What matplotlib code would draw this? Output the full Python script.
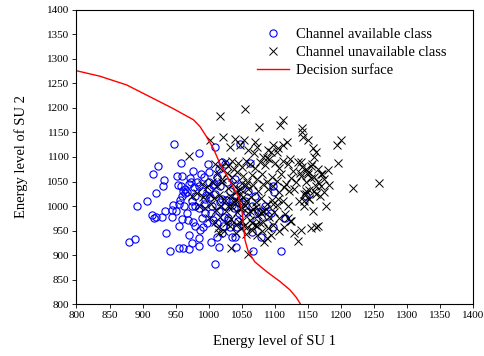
import numpy as np
import matplotlib
matplotlib.use("Agg")
import matplotlib.pyplot as plt

plt.rcParams['font.family'] = ['Liberation Serif', 'DejaVu Serif']

# channel available class (blue circles)
avail_x = [879, 889, 892, 906, 914, 917, 916, 920, 924, 921, 929, 931, 933, 934, 935,
           942, 944, 945, 946, 947, 952, 953, 955, 955, 957, 958, 959, 960, 962, 965,
           967, 969, 970, 971, 973, 975, 976, 977, 979, 985, 986, 986, 987, 989, 992,
           993, 994, 999, 1000, 1003, 1007, 1010, 1010, 1012, 1013, 1016, 1017, 1020, 1021, 1023,
           1029, 1032, 1035, 1040, 1042, 1043, 1047, 1058, 1062, 1066, 1067, 1071, 1075, 1079, 1094,
           1097, 1098, 1099, 1109, 1116, 1147,
           965, 970, 975, 980, 985, 990, 995, 1000, 1005, 1008, 1010, 1015, 1018, 1020, 1025,
           1028, 1030, 1032, 1035, 1038, 1040, 1042, 1045, 1048, 1050, 985, 990, 998, 1003, 1012,
           1022, 1000, 993, 1015, 1025, 963, 968, 975, 980, 960, 955, 950, 958, 1060, 1055,
           1065, 1070, 1080, 1090, 1085, 972, 982, 996, 1006, 1026, 1036, 1046, 962, 978, 1002]
avail_y = [926, 933, 1001, 1011, 982, 975, 1065, 1026, 1082, 978, 978, 1040, 1053, 990, 944,
           909, 992, 978, 1003, 1127, 1061, 1042, 959, 915, 1012, 1087, 973, 1061, 914, 1026,
           1029, 971, 912, 941, 1048, 924, 967, 1072, 999, 1109, 918, 934, 951, 1065, 958,
           1004, 985, 1086, 1050, 926, 971, 1121, 881, 1060, 937, 917, 1009, 944, 1090, 978,
           971, 958, 936, 936, 916, 958, 1127, 988, 1088, 946, 909, 971, 988, 936, 985,
           1040, 958, 1029, 909, 975, 1020,
           1035, 1045, 1010, 1020, 1040, 1030, 1015, 1035, 1000, 1045, 1025, 990, 1040, 1015, 1000,
           1050, 975, 1030, 1010, 995, 1055, 1020, 970, 1040, 1005, 995, 975, 965, 985, 965,
           960, 1070, 1060, 1075, 1085, 1000, 985, 1000, 960, 1020, 1005, 990, 1040, 1030, 1010,
           1000, 1020, 990, 980, 1000, 1058, 1050, 1022, 1042, 1012, 1002, 985, 1030, 1038, 1018]

# channel unavailable class (black crosses)
unavail_x = [1258, 1219, 1200, 1194, 1196, 1180, 1182, 1178, 1165, 1163, 1155, 1158, 1055, 1017, 1112,
             1077, 1108, 1142, 1141, 1143, 1150, 1158, 1163, 1022, 1002, 1040, 1053, 1070, 970, 1035,
             1034, 1060, 1084, 1095, 1135, 1130, 1140, 1125, 1120, 1015,
             1047, 1060, 1073, 1083, 1090, 1095, 1098, 1103, 1113, 1118, 1123, 1032, 1068, 1088, 1105,
             1010, 1018, 1025, 1030, 1038, 1045, 1050, 1057, 1063, 1070, 1078, 1085, 1092, 1100, 1107,
             1112, 1120, 1128, 1135, 1142, 1150, 1157, 1165, 1172, 1012, 1020, 1028, 1036, 1043, 1052,
             1058, 1066, 1074, 1081, 1089, 1096, 1103, 1110, 1117, 1125, 1133, 1140, 1147, 1155, 1162,
             990, 998, 1005, 1013, 1021, 1029, 1037, 1044, 1051, 1059, 1067, 1075, 1082, 1090, 1098,
             1106, 1114, 1122, 1130, 1145, 1152, 975, 983, 992, 1000, 1008, 1016, 1024, 1032, 1040,
             1048, 1056, 1064, 1072, 1080, 1088, 1096, 1104, 1112, 1120, 985, 995, 1003, 1011, 1019,
             1027, 1035, 1043, 1051, 1059, 1067, 1075, 1083, 1091, 1099, 1107, 1115, 1123, 1000, 1009,
             1017, 1026, 1034, 1042, 1050, 1058, 1066, 1074, 1082, 1090, 1098, 1106, 1114, 1014, 1024,
             1033, 1041, 1049, 1057, 1065, 1073, 1081, 1089, 1097, 1105, 1030, 1039, 1047, 1055, 1063,
             1071, 1079, 1087, 1046, 1054, 1062, 1070, 1078, 1160, 1168, 1148, 1137, 1144, 1152, 1175,
             1140, 1147, 1150, 1155, 1160, 1165, 1170, 1148, 1152, 1162, 1170, 1145, 1138, 1160, 1175,
             1042, 1048, 1052, 1045, 1056]
unavail_y = [1047, 1037, 1135, 1125, 1087, 1073, 1043, 999, 960, 958, 955, 990, 1197, 1184, 1176,
             1161, 1165, 1160, 1150, 1140, 1135, 1118, 1110, 1141, 1135, 1137, 1135, 1130, 1103, 1092,
             914, 902, 927, 940, 929, 945, 952, 970, 975, 945,
             1125, 1115, 1120, 1100, 1115, 1110, 1125, 1110, 1125, 1130, 1095, 1120, 1108, 1098, 1118,
             1085, 1078, 1090, 1082, 1075, 1088, 1080, 1092, 1085, 1077, 1090, 1083, 1095, 1088, 1078,
             1092, 1085, 1072, 1090, 1080, 1070, 1085, 1075, 1065, 1065, 1055, 1068, 1060, 1070, 1062,
             1050, 1064, 1055, 1066, 1048, 1060, 1052, 1065, 1045, 1058, 1050, 1062, 1048, 1058, 1040,
             1045, 1038, 1050, 1040, 1048, 1036, 1044, 1032, 1046, 1035, 1042, 1030, 1044, 1034, 1040,
             1028, 1038, 1030, 1035, 1025, 1032, 1020, 1026, 1018, 1024, 1016, 1022, 1014, 1020, 1012,
             1024, 1010, 1018, 1008, 1016, 1005, 1012, 1002, 1010, 1000, 1000, 995, 1004, 992, 1000,
             990, 998, 988, 995, 985, 994, 982, 990, 978, 988, 976, 984, 970, 975, 968,
             978, 965, 974, 962, 970, 958, 966, 960, 968, 955, 962, 950, 958, 955, 948,
             960, 945, 955, 942, 952, 940, 948, 935, 1005, 1015, 1000, 1008, 995, 1003, 990,
             998, 985, 993, 968, 960, 972, 962, 965, 1030, 1020, 1025, 1010, 1000, 1015, 1028,
             1090, 1075, 1065, 1082, 1060, 1050, 1040, 1030, 1015, 1025, 1065, 1010, 1068, 1100, 1055,
             1028, 1035, 1018, 1010, 1042]

# decision surface
curve_x = [800, 835, 876, 911, 946, 977, 987, 997, 1007, 1017, 1027, 1037, 1045, 1048, 1051,
           1053, 1055, 1060, 1070, 1088, 1108, 1123, 1133, 1139]
curve_y = [1276, 1265, 1247, 1223, 1199, 1176, 1162, 1141, 1118, 1087, 1063, 1039, 1019, 1005, 985,
           958, 931, 907, 886, 866, 846, 829, 813, 800]

fig = plt.figure(figsize=(4.84, 3.56), dpi=100)
ax = fig.add_axes([0.158, 0.146, 0.819, 0.826])

ax.plot(avail_x, avail_y, 'o', mfc='none', mec='#0000ff', ms=5.2, mew=0.8,
        label='Channel available class')
ax.plot(unavail_x, unavail_y, 'x', color='black', ms=6, mew=0.7,
        label='Channel unavailable class')
ax.plot(curve_x, curve_y, '-', color='red', lw=1.0, label='Decision surface')

ax.set_xlim(800, 1400)
ax.set_ylim(800, 1400)
ax.set_xticks(np.arange(800, 1401, 50))
ax.set_yticks(np.arange(800, 1401, 50))
ax.tick_params(labelsize=8, length=3, width=0.6, direction='out', pad=2)
ax.tick_params(which='both', top=False, right=False)
for s in ax.spines.values():
    s.set_linewidth(0.8)

ax.set_xlabel('Energy level of SU 1', fontsize=10.5, labelpad=10)
ax.set_ylabel('Energy level of SU 2', fontsize=10.5, labelpad=14)

leg = ax.legend(loc='upper right', bbox_to_anchor=(0.948, 0.96), borderaxespad=0,
                frameon=False, fontsize=10.5, handlelength=2.2, handletextpad=0.5,
                labelspacing=0.35)

fig.savefig('out.png', dpi=100)
